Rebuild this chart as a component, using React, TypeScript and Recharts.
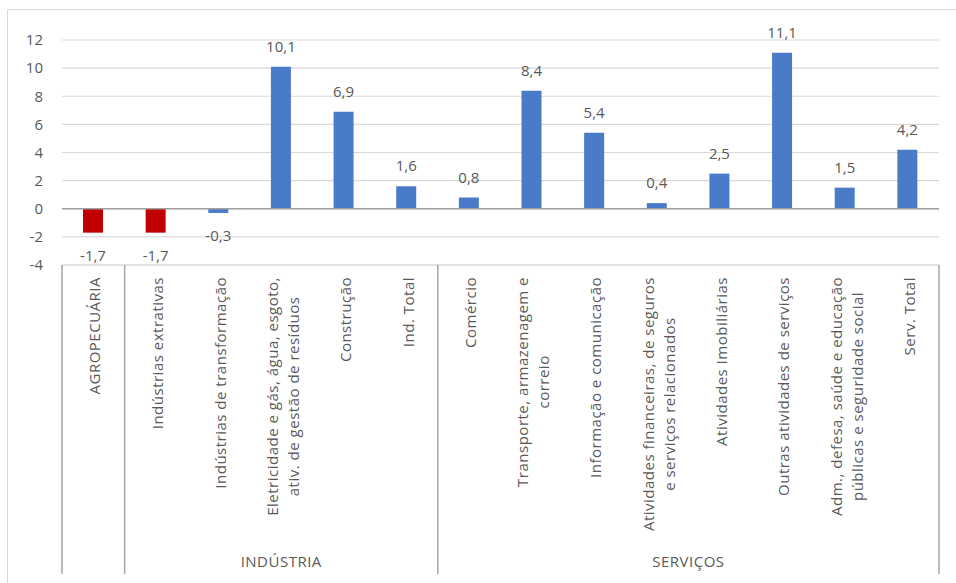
import React from "react";
import { BarChart, Bar, XAxis, YAxis, CartesianGrid, ReferenceLine, LabelList, Cell } from "recharts";

const categories = [
  "AGROPECUÁRIA",
  "Indústrias extrativas",
  "Indústrias de transformação",
  "Eletricidade e gás, água, esgoto,\nativ. de gestão de resíduos",
  "Construção",
  "Ind. Total",
  "Comércio",
  "Transporte, armazenagem e\ncorreio",
  "Informação e comunicação",
  "Atividades financeiras, de seguros\ne serviços relacionados",
  "Atividades Imobiliárias",
  "Outras atividades de serviços",
  "Adm., defesa, saúde e educação\npúblicas e seguridade social",
  "Serv. Total",
];

const groups = [
  "",
  "INDÚSTRIA",
  "INDÚSTRIA",
  "INDÚSTRIA",
  "INDÚSTRIA",
  "INDÚSTRIA",
  "SERVIÇOS",
  "SERVIÇOS",
  "SERVIÇOS",
  "SERVIÇOS",
  "SERVIÇOS",
  "SERVIÇOS",
  "SERVIÇOS",
  "SERVIÇOS",
];

const values = [-1.7, -1.7, -0.3, 10.1, 6.9, 1.6, 0.8, 8.4, 5.4, 0.4, 2.5, 11.1, 1.5, 4.2];

const highlighted = ["AGROPECUÁRIA", "Indústrias extrativas"];

const yTicks = [-4, -2, 0, 2, 4, 6, 8, 10, 12];

const data = categories.map((name, i) => ({ name, value: values[i], group: groups[i] }));

const W = 956;
const H = 583;
const MARGIN = { top: 40, right: 17, bottom: 10, left: 0 };
const Y_AXIS_W = 62;
const FONT = "'Open Sans', 'Segoe UI', sans-serif";
const FS = 15;
const LS = 0.5;
const TEXT = "#595959";
const BLUE = "#4a7bc8";
const RED = "#c00000";
const SEP = "#a6a6a6";

let ctx: CanvasRenderingContext2D | null = null;
function measure(text: string): number {
  if (!ctx) {
    const c = document.createElement("canvas");
    ctx = c.getContext("2d");
  }
  if (!ctx) return text.length * FS * 0.5;
  ctx.font = `${FS}px 'Open Sans'`;
  return ctx.measureText(text).width + LS * text.length;
}

const CategoryTick = (props: any) => {
  const { x, y, payload } = props;
  const i: number = payload.index ?? props.index;
  const plotW = W - MARGIN.left - MARGIN.right - Y_AXIS_W;
  const half: number =
    typeof payload.offset === "number" && payload.offset > 0 ? payload.offset : plotW / categories.length / 2;
  const lines = String(categories[i]).split("\n");
  const top = y + 12;
  const n = lines.length;
  const block = Math.max(...lines.map(measure));
  const sepLen = 309;
  const els: any[] = [];
  // rotated category label
  els.push(
    <text
      key="lbl"
      transform={`translate(${x} ${top}) rotate(-90)`}
      fill={TEXT}
      fontSize={FS}
      fontFamily={FONT}
      style={{ letterSpacing: `${LS}px` }}
    >
      {lines.map((ln, k) => (
        <tspan
          key={k}
          x={n === 1 ? 0 : -block / 2}
          y={7 + (k - (n - 1) / 2) * 21}
          textAnchor={n === 1 ? "end" : "middle"}
        >
          {ln}
        </tspan>
      ))}
    </text>
  );
  const g = groups[i];
  const isStart = i === 0 || groups[i - 1] !== g;
  if (isStart) {
    els.push(<line key="sepL" x1={x - half} x2={x - half} y1={y} y2={y + sepLen} stroke={SEP} strokeWidth={1.5} />);
    if (g) {
      let c = 0;
      while (i + c < groups.length && groups[i + c] === g) c++;
      const cx = x - half + c * half;
      els.push(
        <text
          key="grp"
          x={cx}
          y={y + 302}
          textAnchor="middle"
          fill={TEXT}
          fontSize={FS}
          fontFamily={FONT}
          style={{ letterSpacing: `${LS}px` }}
        >
          {g}
        </text>
      );
    }
  }
  if (i === categories.length - 1) {
    els.push(<line key="sepR" x1={x + half} x2={x + half} y1={y} y2={y + sepLen} stroke={SEP} strokeWidth={1.5} />);
  }
  return <g>{els}</g>;
};

const fmt = (v: number) => v.toFixed(1).replace(".", ",");

const ValueLabel = (props: any) => {
  const { x, y, width, height, value } = props;
  const v = Number(value);
  const t = Math.min(y, y + height);
  const b = Math.max(y, y + height);
  const cx = x + width / 2;
  const ty = v >= 0 ? t - 15 : b + 28;
  return (
    <text x={cx} y={ty} textAnchor="middle" fill={TEXT} fontSize={FS} fontFamily={FONT}>
      {fmt(v)}
    </text>
  );
};

export default function App() {
  return (
    <div style={{ position: "absolute", left: 0, top: 0, width: W, height: H, overflow: "hidden", background: "#fff" }}>
      <div
        style={{
          position: "absolute",
          left: 7,
          top: 9,
          width: W,
          height: H,
          border: "1px solid #d9d9d9",
          boxSizing: "border-box",
        }}
      />
      <div style={{ position: "absolute", left: 0, top: 0 }}>
        <BarChart width={W} height={H} data={data} margin={MARGIN} style={{ fontFamily: FONT }}>
          <CartesianGrid vertical={false} stroke="#d9d9d9" strokeWidth={1.2} />
          <XAxis
            dataKey="name"
            interval={0}
            tickLine={false}
            tickSize={0}
            tickMargin={0}
            height={308}
            axisLine={{ stroke: "#d9d9d9", strokeWidth: 1.2 }}
            tick={(p: any) => <CategoryTick {...p} />}
          />
          <YAxis
            type="number"
            domain={[-4, 12]}
            ticks={yTicks}
            interval={0}
            width={Y_AXIS_W}
            axisLine={false}
            tickLine={false}
            tickSize={0}
            tickMargin={19}
            tick={{ fill: TEXT, fontSize: FS, fontFamily: FONT }}
          />
          <Bar dataKey="value" barSize={20} isAnimationActive={false}>
            {data.map((d, i) => (
              <Cell key={i} fill={highlighted.includes(d.name) ? RED : BLUE} />
            ))}
            <LabelList dataKey="value" content={(p: any) => <ValueLabel {...p} />} />
          </Bar>
          <ReferenceLine y={0} stroke="#a0a0a0" strokeWidth={1.5} />
        </BarChart>
      </div>
    </div>
  );
}
